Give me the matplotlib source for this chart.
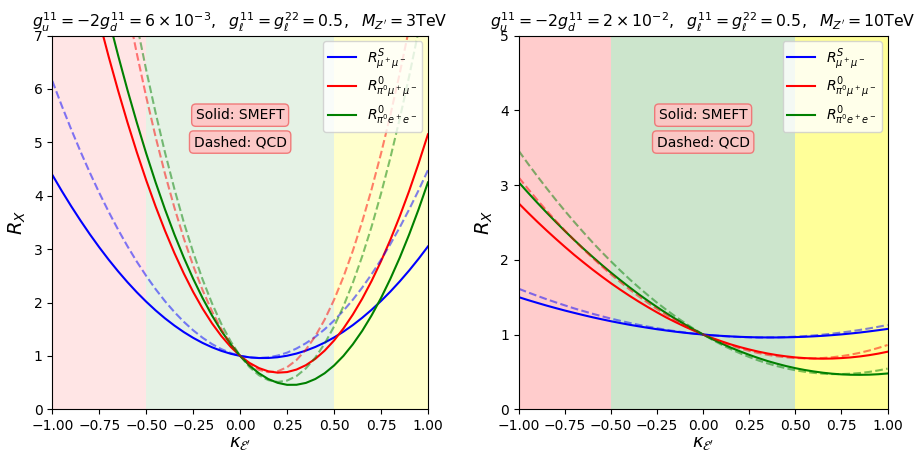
import numpy as np
import matplotlib
matplotlib.use("Agg")
import matplotlib.pyplot as plt

kappa = [-1.00, -0.95, -0.90, -0.85, -0.80, -0.75, -0.70, -0.65, -0.60, -0.55, -0.50,
         -0.45, -0.40, -0.35, -0.30, -0.25, -0.20, -0.15, -0.10, -0.05, 0.00,
         0.05, 0.10, 0.15, 0.20, 0.25, 0.30, 0.35, 0.40, 0.45, 0.50,
         0.55, 0.60, 0.65, 0.70, 0.75, 0.80, 0.85, 0.90, 0.95, 1.00]

# Left panel (M_Z' = 3 TeV)
L_mumu_S_smeft = [4.39, 4.091, 3.806, 3.535, 3.277, 3.033, 2.802, 2.585, 2.381, 2.191, 2.015,
                  1.852, 1.703, 1.568, 1.446, 1.338, 1.243, 1.162, 1.094, 1.04, 1.0,
                  0.973, 0.96, 0.961, 0.975, 1.003, 1.044, 1.099, 1.167, 1.249, 1.345,
                  1.454, 1.577, 1.714, 1.864, 2.028, 2.205, 2.396, 2.6, 2.818, 3.05]
L_mumu_S_qcd = [6.15, 5.687, 5.247, 4.828, 4.43, 4.053, 3.699, 3.366, 3.054, 2.764, 2.497,
                2.25, 2.024, 1.821, 1.639, 1.479, 1.34, 1.222, 1.127, 1.053, 1.0,
                0.969, 0.96, 0.972, 1.006, 1.061, 1.138, 1.237, 1.356, 1.498, 1.662,
                1.846, 2.052, 2.28, 2.53, 2.801, 3.094, 3.408, 3.744, 4.101, 4.48]
L_pimumu_smeft = [11.15, 10.303, 9.49, 8.716, 7.976, 7.272, 6.604, 5.971, 5.374, 4.813, 4.288,
                  3.798, 3.344, 2.926, 2.544, 2.197, 1.886, 1.611, 1.372, 1.168, 1.0,
                  0.868, 0.772, 0.711, 0.686, 0.697, 0.744, 0.826, 0.944, 1.098, 1.288,
                  1.513, 1.774, 2.071, 2.404, 2.772, 3.176, 3.616, 4.09, 4.603, 5.15]
L_pimumu_qcd = [16.6, 15.26, 13.978, 12.756, 11.592, 10.488, 9.442, 8.456, 7.528, 6.66, 5.85,
                5.1, 4.408, 3.776, 3.202, 2.688, 2.232, 1.836, 1.498, 1.22, 1.0,
                0.84, 0.738, 0.696, 0.712, 0.788, 0.922, 1.116, 1.368, 1.68, 2.05,
                2.48, 2.968, 3.516, 4.122, 4.788, 5.512, 6.296, 7.138, 8.04, 9.0]
L_piee_smeft = [12.19, 11.288, 10.421, 9.591, 8.797, 8.039, 7.317, 6.631, 5.981, 5.368, 4.79,
                4.249, 3.743, 3.274, 2.841, 2.444, 2.083, 1.758, 1.469, 1.217, 1.0,
                0.819, 0.675, 0.566, 0.495, 0.458, 0.459, 0.494, 0.567, 0.675, 0.82,
                1.0, 1.217, 1.469, 1.759, 2.083, 2.445, 2.841, 3.275, 3.744, 4.25]
L_piee_qcd = [17.6, 16.21, 14.878, 13.606, 12.392, 11.238, 10.142, 9.106, 8.128, 7.21, 6.35,
              5.55, 4.808, 4.126, 3.502, 2.938, 2.432, 1.986, 1.598, 1.27, 1.0,
              0.79, 0.638, 0.546, 0.512, 0.538, 0.622, 0.766, 0.968, 1.23, 1.55,
              1.93, 2.368, 2.866, 3.422, 4.038, 4.712, 5.446, 6.238, 7.09, 8.0]

# Right panel (M_Z' = 10 TeV)
R_mumu_S_smeft = [1.5, 1.461, 1.424, 1.388, 1.354, 1.321, 1.29, 1.26, 1.231, 1.204, 1.178,
                  1.154, 1.131, 1.11, 1.09, 1.071, 1.054, 1.038, 1.024, 1.011, 1.0,
                  0.99, 0.982, 0.975, 0.969, 0.965, 0.962, 0.961, 0.961, 0.963, 0.966,
                  0.97, 0.976, 0.983, 0.992, 1.002, 1.014, 1.027, 1.042, 1.058, 1.075]
R_mumu_S_qcd = [1.612, 1.564, 1.518, 1.473, 1.431, 1.39, 1.35, 1.314, 1.278, 1.245, 1.213,
                1.184, 1.156, 1.13, 1.106, 1.084, 1.063, 1.045, 1.028, 1.013, 1.0,
                0.989, 0.98, 0.972, 0.967, 0.963, 0.96, 0.961, 0.962, 0.966, 0.972,
                0.979, 0.988, 0.999, 1.012, 1.027, 1.043, 1.062, 1.082, 1.104, 1.128]
R_pimumu_smeft = [2.754, 2.63, 2.51, 2.394, 2.282, 2.173, 2.067, 1.967, 1.869, 1.776, 1.686,
                  1.601, 1.519, 1.441, 1.367, 1.296, 1.228, 1.166, 1.107, 1.052, 1.0,
                  0.952, 0.909, 0.868, 0.832, 0.8, 0.771, 0.746, 0.725, 0.708, 0.694,
                  0.685, 0.679, 0.677, 0.679, 0.685, 0.694, 0.707, 0.724, 0.745, 0.77]
R_pimumu_qcd = [3.1, 2.949, 2.802, 2.66, 2.523, 2.391, 2.264, 2.142, 2.025, 1.913, 1.805,
                1.703, 1.605, 1.512, 1.424, 1.341, 1.263, 1.19, 1.122, 1.059, 1.0,
                0.947, 0.898, 0.854, 0.815, 0.781, 0.752, 0.728, 0.709, 0.695, 0.685,
                0.681, 0.681, 0.686, 0.696, 0.711, 0.731, 0.756, 0.786, 0.821, 0.86]
R_piee_smeft = [3.036, 2.898, 2.764, 2.634, 2.508, 2.385, 2.266, 2.151, 2.04, 1.932, 1.828,
                1.729, 1.633, 1.54, 1.452, 1.367, 1.286, 1.209, 1.136, 1.066, 1.0,
                0.938, 0.88, 0.825, 0.775, 0.728, 0.685, 0.645, 0.61, 0.578, 0.55,
                0.526, 0.506, 0.489, 0.476, 0.467, 0.462, 0.461, 0.463, 0.469, 0.479]
R_piee_qcd = [3.456, 3.285, 3.12, 2.96, 2.804, 2.654, 2.509, 2.369, 2.233, 2.103, 1.978,
              1.858, 1.742, 1.632, 1.527, 1.426, 1.331, 1.241, 1.156, 1.075, 1.0,
              0.93, 0.864, 0.804, 0.749, 0.699, 0.653, 0.613, 0.578, 0.548, 0.522,
              0.502, 0.487, 0.476, 0.471, 0.471, 0.476, 0.485, 0.5, 0.52, 0.544]

labels = [r'$R^S_{\mu^+\mu^-}$', r'$R^0_{\pi^0\mu^+\mu^-}$', r'$R^0_{\pi^0e^+e^-}$']
colors = ['blue', 'red', 'green']

titles = [r'$g_u^{11}=-2g_d^{11}=6\times10^{-3},\ \ g_\ell^{11}=g_\ell^{22}=0.5,\ \ M_{Z^\prime}=3$TeV',
          r'$g_u^{11}=-2g_d^{11}=2\times10^{-2},\ \ g_\ell^{11}=g_\ell^{22}=0.5,\ \ M_{Z^\prime}=10$TeV']

fig = plt.figure(figsize=(9.15, 4.53), dpi=100)
ax1 = fig.add_axes([0.0572, 0.0965, 0.4105, 0.825])
ax2 = fig.add_axes([0.567, 0.0965, 0.403, 0.825])

panels = [
    (ax1, [L_mumu_S_smeft, L_pimumu_smeft, L_piee_smeft],
     [L_mumu_S_qcd, L_pimumu_qcd, L_piee_qcd], 7, 0.1, 0.2, titles[0]),
    (ax2, [R_mumu_S_smeft, R_pimumu_smeft, R_piee_smeft],
     [R_mumu_S_qcd, R_pimumu_qcd, R_piee_qcd], 5, 0.2, 0.4, titles[1]),
]

for ax, smeft, qcd, ymax, a_rg, a_y, title in panels:
    ax.axvspan(-1, -0.5, color='red', alpha=a_rg, lw=0)
    ax.axvspan(-0.5, 0.5, color='green', alpha=a_rg, lw=0)
    ax.axvspan(0.5, 1, color='yellow', alpha=a_y, lw=0)
    for s, c, lab in zip(smeft, colors, labels):
        ax.plot(kappa, s, color=c, lw=1.5, label=lab)
    for q, c in zip(qcd, colors):
        ax.plot(kappa, q, color=c, lw=1.5, ls='--', alpha=0.5)
    ax.set_xlim(-1, 1)
    ax.set_ylim(0, ymax)
    ax.set_xticks([-1.0, -0.75, -0.5, -0.25, 0.0, 0.25, 0.5, 0.75, 1.0])
    ax.set_yticks(range(0, ymax + 1))
    ax.tick_params(labelsize=10)
    ax.set_xlabel(r"$\kappa_{\mathcal{E}^\prime}$", fontsize=13, labelpad=1)
    ax.set_ylabel(r"$R_X$", fontsize=14)
    ax.set_title(title, fontsize=11.3, pad=6)
    ax.legend(loc='upper right', fontsize=10, labelspacing=0.25, borderaxespad=0.4,
              borderpad=0.35)
    box = dict(boxstyle='round', facecolor='#ffc4c4', edgecolor='#f07070', alpha=0.9)
    ax.text(0.5, 0.787, 'Solid: SMEFT', transform=ax.transAxes, ha='center', va='center',
            fontsize=10, bbox=box)
    ax.text(0.5, 0.715, 'Dashed: QCD', transform=ax.transAxes, ha='center', va='center',
            fontsize=10, bbox=box)

fig.savefig('out.png', dpi=100)
